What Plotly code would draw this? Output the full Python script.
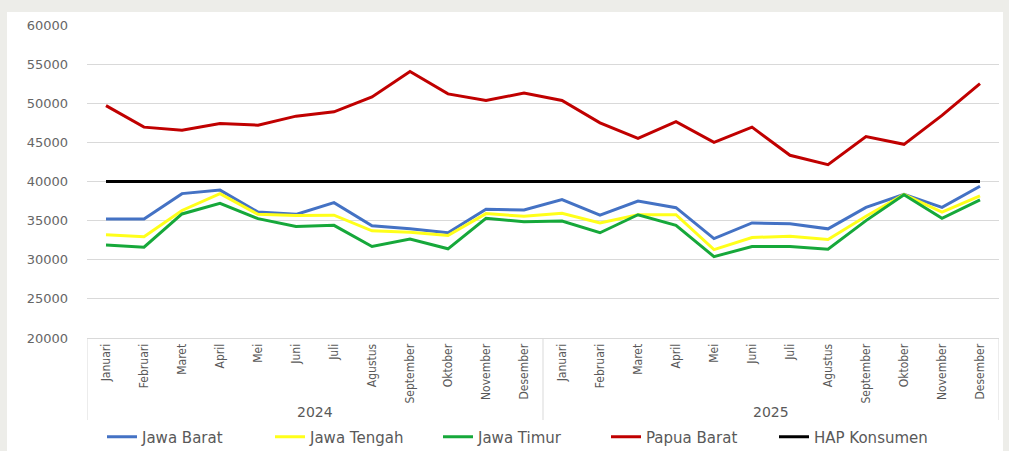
import plotly.graph_objects as go

months = ["Januari", "Februari", "Maret", "April", "Mei", "Juni", "Juli",
          "Agustus", "September", "Oktober", "November", "Desember"]
years = ["2024", "2025"]

jawa_barat = [35200, 35200, 38450, 38900, 36100, 35800, 37300, 34350, 33950, 33450, 36450, 36350,
              37700, 35700, 37500, 36650, 32700, 34700, 34600, 33950, 36700, 38350, 36700, 39400]
jawa_tengah = [33200, 32950, 36300, 38450, 35800, 35650, 35700, 33700, 33500, 33100, 35900, 35550,
               35950, 34700, 35750, 35750, 31300, 32850, 33000, 32600, 35550, 38350, 36100, 38150]
jawa_timur = [31900, 31600, 35850, 37200, 35250, 34250, 34400, 31700, 32650, 31400, 35300, 34850,
              34950, 33450, 35750, 34400, 30400, 31700, 31700, 31350, 35000, 38300, 35300, 37650]
papua_barat = [49700, 46950, 46550, 47400, 47200, 48350, 48900, 50800, 54050, 51200, 50350, 51300,
               50350, 47500, 45500, 47650, 45000, 46950, 43350, 42150, 45750, 44750, 48450, 52500]
hap_konsumen = [40000] * 24

n_m = len(months)
x_idx = list(range(n_m * len(years)))
tick_text = months * len(years)

series = [
    ("Jawa Barat", jawa_barat, "#4472C4"),
    ("Jawa Tengah", jawa_tengah, "#FFFF1A"),
    ("Jawa Timur", jawa_timur, "#16A83A"),
    ("Papua Barat", papua_barat, "#C00000"),
    ("HAP Konsumen", hap_konsumen, "#000000"),
]

fig = go.Figure()
for name, vals, color in series:
    fig.add_trace(go.Scatter(x=x_idx, y=vals, name=name, mode="lines",
                             line=dict(color=color, width=3)))

W, H = 1009, 451
L, R, T, B = 87, 10, 25, 113
pw, ph = W - L - R, H - T - B

def px2x(p):
    return (p - L) / pw

def px2y(p):
    return (H - B - p) / ph

# white chart panel over the grey page border
fig.add_shape(type="rect", xref="paper", yref="paper",
              x0=px2x(7), x1=px2x(1003), y0=px2y(460), y1=px2y(12),
              fillcolor="white", line=dict(width=0), layer="below")

# group dividers and year labels for the two-level category axis
for gi, yr in enumerate(years):
    start = gi * n_m - 0.5
    fig.add_shape(type="line", xref="x", yref="paper", x0=start, x1=start,
                  y0=0, y1=px2y(420), line=dict(color="#D9D9D9", width=1))
    fig.add_annotation(x=start + n_m / 2, xref="x", y=px2y(412), yref="paper",
                       text=yr, showarrow=False, yanchor="middle",
                       font=dict(family="DejaVu Sans", size=14, color="#595959"))
end = len(years) * n_m - 0.5
fig.add_shape(type="line", xref="x", yref="paper", x0=end, x1=end,
              y0=0, y1=px2y(420), line=dict(color="#D9D9D9", width=1))

fig.update_layout(
    width=W, height=H,
    margin=dict(l=L, r=R, t=T, b=B, autoexpand=False),
    paper_bgcolor="#EDEDE9",
    plot_bgcolor="white",
    showlegend=True,
    legend=dict(orientation="h", x=px2x(102), xanchor="left", y=px2y(437), yanchor="middle",
                font=dict(family="DejaVu Sans", size=15, color="#595959"),
                entrywidth=123, entrywidthmode="pixels", bgcolor="rgba(0,0,0,0)"),
    xaxis=dict(tickmode="array", tickvals=x_idx, ticktext=tick_text, tickangle=-90,
               showline=True, linecolor="#D9D9D9", linewidth=1, showgrid=False, ticks="",
               zeroline=False, range=[-0.5, end],
               tickfont=dict(family="DejaVu Sans Condensed, sans-serif",
                             size=12, color="#595959")),
    yaxis=dict(range=[20000, 60000], dtick=5000, showgrid=True, gridcolor="#D9D9D9",
               gridwidth=1, zeroline=False, showline=False, ticks="",
               tickformat="d", ticklabelstandoff=18,
               tickfont=dict(family="DejaVu Sans", size=13, color="#666666")),
)

fig.write_html("out.html")
